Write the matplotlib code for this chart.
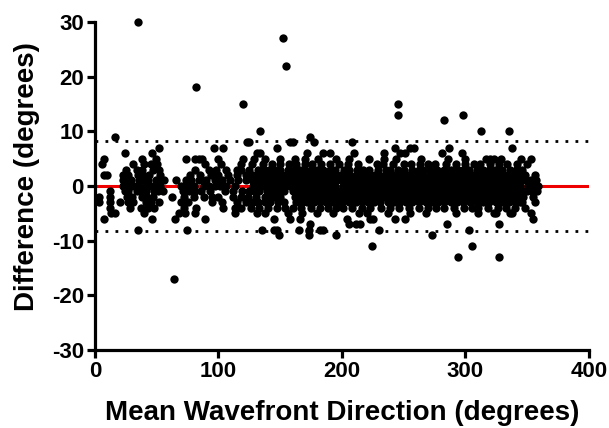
import matplotlib
matplotlib.use("Agg")
import matplotlib.pyplot as plt
import numpy as np

plt.rcParams['font.family'] = ['Liberation Sans', 'DejaVu Sans']
plt.rcParams['font.weight'] = 'bold'
plt.rcParams['axes.unicode_minus'] = False

# x positions (mean wavefront direction) of points at each difference level (degrees)
lev_p30 = [35]
lev_p27 = [152]
lev_p22 = [155]
lev_p18 = [82]
lev_p15 = [120, 245]
lev_p13 = [245, 298]
lev_p12 = [283]
lev_p10 = [134, 313, 335]
lev_p9 = [16, 174]
lev_p8 = [123, 125, 158, 160, 177, 208]
lev_p7 = [52, 96, 104, 147, 243, 255, 258, 287, 338]
lev_p6 = [24, 46, 131, 134, 172, 185, 190, 210, 234, 247, 251, 281, 297]
lev_p5 = [7, 38, 49, 74, 81, 84, 87, 100, 120, 129, 138, 150, 162, 170, 181, 195,
          206, 222, 234, 244, 264, 286, 300, 317, 320, 323, 329, 345, 353]
lev_p4 = [6, 31, 40, 45, 50, 89, 102, 118, 127, 136, 143, 150, 157, 163, 170,
          176, 183, 190, 198, 205, 213, 228, 233, 241, 250, 256, 263, 270, 275, 284,
          292, 300, 307, 312, 320, 327, 334, 342, 350]
lev_p3 = [25, 34, 38, 47, 52, 81, 92, 98, 106, 115, 118, 125, 132, 137, 141,
          146, 150, 156, 161, 166, 170, 175, 180, 185, 190, 194, 202, 206, 212, 217,
          222, 229, 236, 239, 245, 250, 257, 262, 266, 271, 277, 283, 288, 294, 298,
          303, 309, 314, 319, 324, 330, 336, 341, 346]
lev_p2 = [7, 10, 23, 27, 35, 39, 44, 53, 77, 85, 94, 100, 108, 115, 122, 127,
          131, 134, 139, 143, 146, 151, 155, 158, 163, 167, 170, 175, 179, 182, 187,
          191, 194, 199, 203, 206, 211, 215, 218, 223, 227, 230, 235, 239, 242, 247,
          251, 254, 259, 263, 266, 271, 275, 278, 283, 287, 290, 295, 299, 302, 307,
          311, 314, 319, 323, 326, 331, 335, 338, 343, 348, 356]
lev_p1 = [23, 26, 29, 36, 40, 43, 49, 52, 56, 66, 74, 78, 84, 90, 97, 103,
          109, 116, 122, 127, 130, 134, 137, 140, 144, 147, 151, 155, 158, 162, 165,
          169, 172, 176, 179, 183, 186, 190, 193, 196, 200, 203, 207, 210, 214, 217,
          220, 224, 228, 231, 235, 238, 242, 245, 249, 252, 255, 259, 262, 266, 269,
          272, 276, 279, 283, 286, 290, 293, 296, 300, 303, 307, 310, 314, 317, 320,
          324, 327, 331, 334, 337, 341, 344, 348, 353, 357]
lev_0 = [23, 26, 30, 33, 36, 41, 44, 47, 50, 53, 70, 73, 77, 80, 88, 92, 97, 101,
         106, 113, 128, 131, 135, 138, 142, 145, 148, 152, 154, 158, 161, 165, 167,
         171, 174, 178, 181, 184, 188, 191, 194, 201, 204, 208, 211, 214, 217, 221,
         224, 227, 231, 234, 237, 240, 244, 247, 250, 253, 257, 260, 263, 266, 270,
         273, 276, 279, 283, 286, 289, 292, 296, 299, 302, 305, 309, 312, 315, 318,
         322, 325, 328, 331, 335, 338, 341, 344, 351, 354, 357, 359]
lev_m1 = [12, 24, 27, 34, 37, 41, 48, 51, 55, 71, 76, 81, 86, 93, 105, 112,
          119, 125, 129, 133, 139, 143, 146, 150, 153, 160, 164, 167, 170,
          174, 177, 181, 184, 188, 191, 195, 199, 202, 206, 209, 213, 216, 219, 223,
          226, 230, 233, 236, 240, 243, 247, 250, 254, 257, 261, 264, 267, 271, 274,
          278, 281, 285, 288, 291, 295, 298, 302, 305, 308, 312, 315, 319, 322, 326,
          329, 333, 336, 339, 343, 346, 350, 354, 358]
lev_m2 = [3, 12, 26, 30, 38, 42, 47, 62, 72, 80, 88, 95, 100, 112, 118, 124,
          130, 138, 142, 145, 150, 162, 166, 169, 174, 178, 181, 186,
          190, 193, 198, 202, 205, 210, 214, 217, 222, 226, 229, 234, 238, 241, 246,
          250, 253, 258, 262, 265, 270, 274, 277, 282, 286, 289, 294, 298, 301, 306,
          310, 313, 318, 322, 325, 330, 334, 337, 342, 347, 355]
lev_m3 = [3, 12, 20, 27, 31, 41, 45, 52, 70, 75, 95, 103, 115, 122, 128, 132, 138,
          142, 148, 153, 163, 168, 172, 177, 182, 187, 192, 197, 200, 206, 211,
          216, 221, 226, 231, 237, 242, 247, 252, 257, 262, 268, 273, 278, 283, 288,
          293, 298, 304, 309, 314, 319, 325, 330, 335, 340, 344, 346, 356]
lev_m4 = [12, 28, 37, 43, 48, 72, 82, 104, 113, 118, 126, 133, 140, 147, 154, 160,
          167, 175, 182, 189, 195, 201, 208, 216, 223, 232, 239, 246, 254, 262, 270,
          276, 283, 291, 299, 305, 310, 318, 326, 333, 340, 348]
lev_m5 = [13, 16, 40, 68, 73, 81, 113, 131, 138, 156, 168, 180, 193, 214, 220, 237,
          255, 268, 292, 310, 323, 325, 336, 338, 353]
lev_m6 = [7, 46, 65, 89, 145, 158, 166, 204, 223, 225, 243, 251, 355]
lev_m7 = [174, 206, 211, 215, 285, 327]
lev_m8 = [35, 74.5, 135, 145, 147, 165, 173, 182, 185, 230, 303]
lev_m9 = [149, 173, 195, 273]
lev_m11 = [224, 305]
lev_m13 = [294, 327]
lev_m17 = [64]

levels = {30: lev_p30, 27: lev_p27, 22: lev_p22, 18: lev_p18, 15: lev_p15,
          13: lev_p13, 12: lev_p12, 10: lev_p10, 9: lev_p9, 8: lev_p8, 7: lev_p7,
          6: lev_p6, 5: lev_p5, 4: lev_p4, 3: lev_p3, 2: lev_p2, 1: lev_p1, 0: lev_0,
          -1: lev_m1, -2: lev_m2, -3: lev_m3, -4: lev_m4, -5: lev_m5, -6: lev_m6,
          -7: lev_m7, -8: lev_m8, -9: lev_m9, -11: lev_m11, -13: lev_m13, -17: lev_m17}

bias = 0.0
upper_loa = 8.2
lower_loa = -8.2

xticks = [0, 100, 200, 300, 400]
yticks = [-30, -20, -10, 0, 10, 20, 30]

xs = []
ys = []
for d, xl in levels.items():
    xs.extend(xl)
    ys.extend([d] * len(xl))
xs = np.array(xs, dtype=float)
ys = np.array(ys, dtype=float)

fig = plt.figure(figsize=(6.09, 4.28), dpi=100)
ax = fig.add_axes([0.156, 0.182, 0.811, 0.767])

ax.axhline(bias, color='#ee0000', lw=2.2, zorder=1)
ax.axhline(upper_loa, color='black', lw=2.0, linestyle=(0, (1, 2.6)), zorder=1)
ax.axhline(lower_loa, color='black', lw=2.0, linestyle=(0, (1, 2.6)), zorder=1)
ax.scatter(xs, ys, s=36, color='black', linewidths=0, zorder=3, clip_on=False)

ax.set_xlim(0, 400)
ax.set_ylim(-30, 30)
ax.set_xticks(xticks)
ax.set_yticks(yticks)
for s in ['top', 'right']:
    ax.spines[s].set_visible(False)
for s in ['left', 'bottom']:
    ax.spines[s].set_linewidth(2.3)
ax.tick_params(axis='both', width=2.3, length=6, labelsize=16, pad=2)
for lab in ax.get_xticklabels() + ax.get_yticklabels():
    lab.set_fontweight('bold')
ax.set_xlabel('Mean Wavefront Direction (degrees)', fontsize=20, fontweight='bold', labelpad=13)
ax.set_ylabel('Difference (degrees)', fontsize=20, fontweight='bold')
ax.yaxis.set_label_coords(-0.111, 0.53)

fig.savefig('out.png', dpi=100)
